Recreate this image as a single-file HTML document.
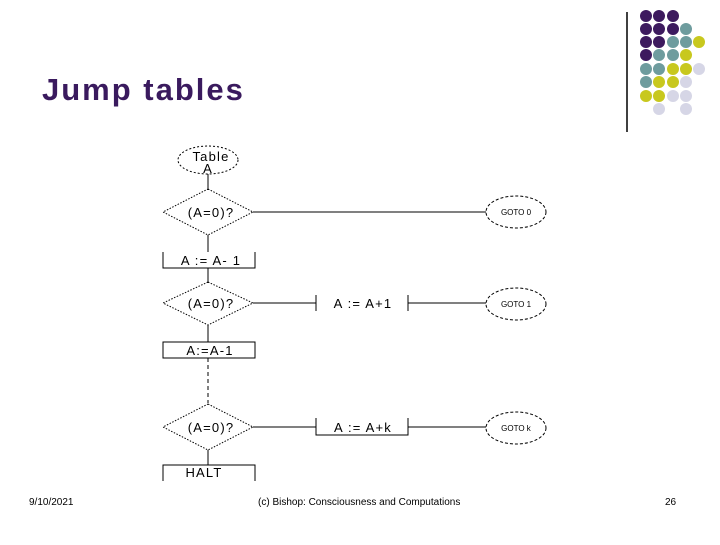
<!DOCTYPE html>
<html><head><style>
body{margin:0;width:720px;height:540px;background:#fff;overflow:hidden;font-family:"Liberation Sans",sans-serif}
</style></head><body>
<svg width="720" height="540" xmlns="http://www.w3.org/2000/svg" font-family="Liberation Sans, sans-serif">
<text x="42" y="100" font-size="31" font-weight="bold" fill="#3a1a5e" letter-spacing="2">Jump tables</text>
<line x1="627" y1="12" x2="627" y2="132" stroke="#000" stroke-width="1.5"/>
<g>
<circle cx="646" cy="16" r="6" fill="#3d1a5e"/><circle cx="659" cy="16" r="6" fill="#3d1a5e"/><circle cx="673" cy="16" r="6" fill="#3d1a5e"/>
<circle cx="646" cy="29" r="6" fill="#3d1a5e"/><circle cx="659" cy="29" r="6" fill="#3d1a5e"/><circle cx="673" cy="29" r="6" fill="#3d1a5e"/><circle cx="686" cy="29" r="6" fill="#6e9c9e"/>
<circle cx="646" cy="42" r="6" fill="#3d1a5e"/><circle cx="659" cy="42" r="6" fill="#3d1a5e"/><circle cx="673" cy="42" r="6" fill="#6e9c9e"/><circle cx="686" cy="42" r="6" fill="#6e9c9e"/><circle cx="699" cy="42" r="6" fill="#c8c81e"/>
<circle cx="646" cy="55" r="6" fill="#3d1a5e"/><circle cx="659" cy="55" r="6" fill="#6e9c9e"/><circle cx="673" cy="55" r="6" fill="#6e9c9e"/><circle cx="686" cy="55" r="6" fill="#c8c81e"/>
<circle cx="646" cy="69" r="6" fill="#6e9c9e"/><circle cx="659" cy="69" r="6" fill="#6e9c9e"/><circle cx="673" cy="69" r="6" fill="#c8c81e"/><circle cx="686" cy="69" r="6" fill="#c8c81e"/><circle cx="699" cy="69" r="6" fill="#d6d6e6"/>
<circle cx="646" cy="82" r="6" fill="#6e9c9e"/><circle cx="659" cy="82" r="6" fill="#c8c81e"/><circle cx="673" cy="82" r="6" fill="#c8c81e"/><circle cx="686" cy="82" r="6" fill="#d6d6e6"/>
<circle cx="646" cy="96" r="6" fill="#c8c81e"/><circle cx="659" cy="96" r="6" fill="#c8c81e"/><circle cx="673" cy="96" r="6" fill="#d6d6e6"/><circle cx="686" cy="96" r="6" fill="#d6d6e6"/>
<circle cx="659" cy="109" r="6" fill="#d6d6e6"/><circle cx="686" cy="109" r="6" fill="#d6d6e6"/>
</g>
<g stroke="#000" fill="none" stroke-width="1">
<ellipse cx="208" cy="160" rx="30" ry="14" stroke-dasharray="2,2"/>
<line x1="208" y1="174" x2="208" y2="190"/>
<polygon points="208,189 253,212 208,235 163,212" stroke-dasharray="1.5,1.5"/>
<line x1="253" y1="212" x2="486" y2="212"/>
<ellipse cx="516" cy="212" rx="30" ry="16" stroke-dasharray="3,2"/>
<line x1="208" y1="235" x2="208" y2="252"/>
<polyline points="163,252 163,268 255,268 255,252"/>
<line x1="208" y1="268" x2="208" y2="283"/>
<polygon points="208,282 253,303 208,325 163,303" stroke-dasharray="1.5,1.5"/>
<line x1="253" y1="303" x2="316" y2="303"/>
<line x1="316" y1="295" x2="316" y2="311"/><line x1="408" y1="295" x2="408" y2="311"/>
<line x1="408" y1="303" x2="486" y2="303"/>
<ellipse cx="516" cy="304" rx="30" ry="16" stroke-dasharray="3,2"/>
<line x1="208" y1="325" x2="208" y2="342"/>
<rect x="163" y="342" width="92" height="16"/>
<line x1="208" y1="358" x2="208" y2="403" stroke-dasharray="4,3"/>
<polygon points="208,404 253,427 208,450 163,427" stroke-dasharray="1.5,1.5"/>
<line x1="253" y1="427" x2="316" y2="427"/>
<polyline points="316,418 316,435 408,435 408,418"/>
<line x1="408" y1="427" x2="486" y2="427"/>
<ellipse cx="516" cy="428" rx="30" ry="16" stroke-dasharray="3,2"/>
<line x1="208" y1="450" x2="208" y2="465"/>
<polyline points="163,481 163,465 255,465 255,481"/>
</g>
<g font-size="13" fill="#000" text-anchor="middle" letter-spacing="1.2">
<text x="211" y="161">Table</text><text x="208" y="173">A</text>
<text x="211" y="217">(A=0)?</text>
<text x="211" y="265">A := A- 1</text>
<text x="211" y="308">(A=0)?</text>
<text x="363" y="308">A := A+1</text>
<text x="210" y="355">A:=A-1</text>
<text x="211" y="432">(A=0)?</text>
<text x="363" y="432">A := A+k</text>
<text x="204" y="477">HALT</text>
</g>
<g font-size="8" fill="#000" text-anchor="middle">
<text x="516" y="215">GOTO 0</text><text x="516" y="307">GOTO 1</text><text x="516" y="431">GOTO k</text>
</g>
<g font-size="10" fill="#000">
<text x="29" y="505">9/10/2021</text>
<text x="258" y="505">(c) Bishop: Consciousness and Computations</text>
<text x="665" y="505">26</text>
</g>
</svg>
</body></html>
